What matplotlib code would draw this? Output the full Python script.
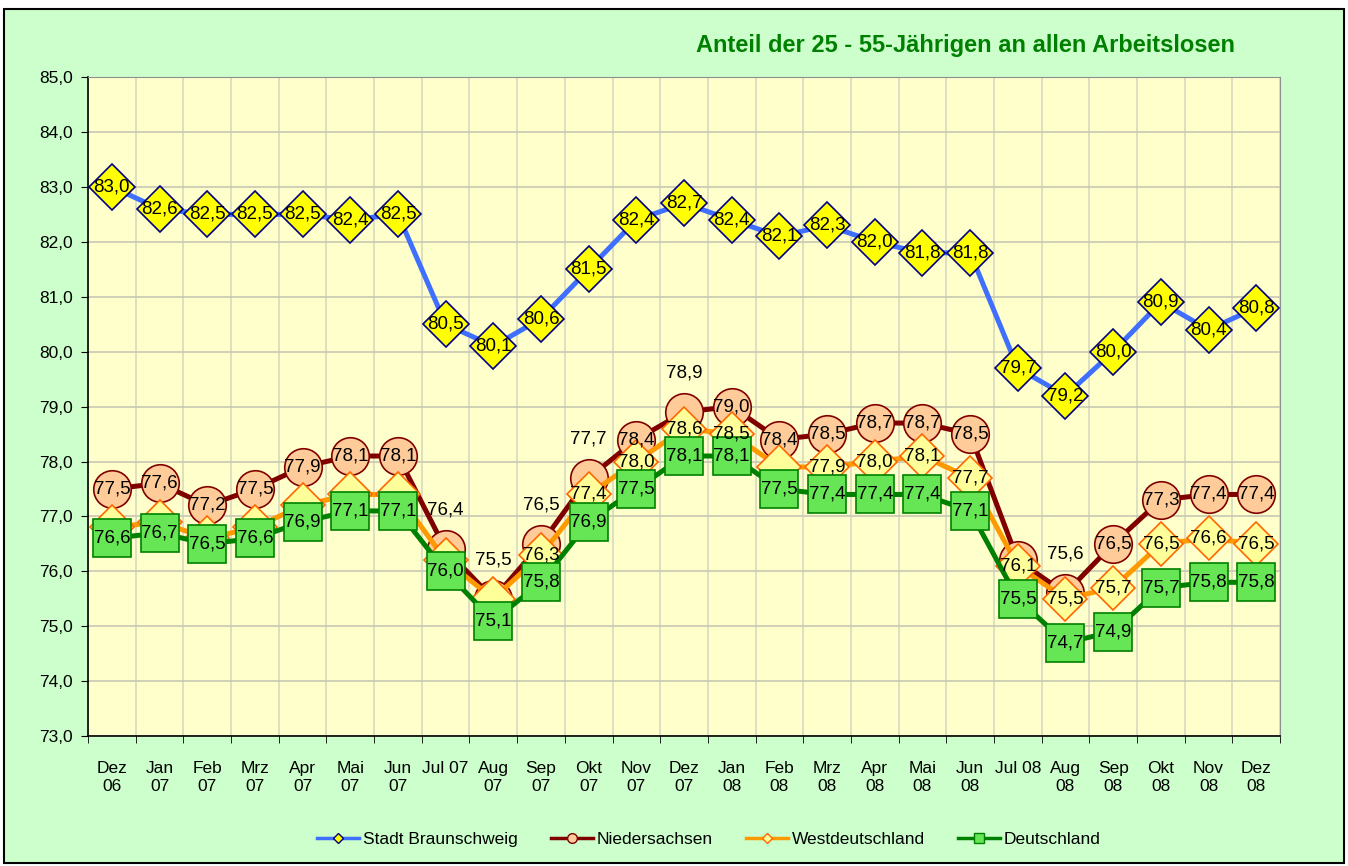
import matplotlib
matplotlib.use('Agg')
import numpy as np
import matplotlib.pyplot as plt
from matplotlib.lines import Line2D
from matplotlib.patches import Rectangle
from matplotlib.ticker import FuncFormatter, MultipleLocator

plt.rcParams['font.family'] = ['Liberation Sans', 'DejaVu Sans']

months = ['Dez\n06', 'Jan\n07', 'Feb\n07', 'Mrz\n07', 'Apr\n07', 'Mai\n07', 'Jun\n07', 'Jul 07',
          'Aug\n07', 'Sep\n07', 'Okt\n07', 'Nov\n07', 'Dez\n07', 'Jan\n08', 'Feb\n08', 'Mrz\n08',
          'Apr\n08', 'Mai\n08', 'Jun\n08', 'Jul 08', 'Aug\n08', 'Sep\n08', 'Okt\n08', 'Nov\n08', 'Dez\n08']

braunschweig = [83.0, 82.6, 82.5, 82.5, 82.5, 82.4, 82.5, 80.5, 80.1, 80.6, 81.5, 82.4, 82.7,
                82.4, 82.1, 82.3, 82.0, 81.8, 81.8, 79.7, 79.2, 80.0, 80.9, 80.4, 80.8]
niedersachsen = [77.5, 77.6, 77.2, 77.5, 77.9, 78.1, 78.1, 76.4, 75.5, 76.5, 77.7, 78.4, 78.9,
                 79.0, 78.4, 78.5, 78.7, 78.7, 78.5, 76.2, 75.6, 76.5, 77.3, 77.4, 77.4]
westdeutschland = [76.8, 76.9, 76.6, 76.8, 77.2, 77.4, 77.4, 76.2, 75.5, 76.3, 77.4, 78.0, 78.6,
                   78.5, 77.9, 77.9, 78.0, 78.1, 77.7, 76.1, 75.5, 75.7, 76.5, 76.6, 76.5]
deutschland = [76.6, 76.7, 76.5, 76.6, 76.9, 77.1, 77.1, 76.0, 75.1, 75.8, 76.9, 77.5, 78.1,
               78.1, 77.5, 77.4, 77.4, 77.4, 77.1, 75.5, 74.7, 74.9, 75.7, 75.8, 75.8]

# which labels sit above the marker / are left out
nieder_above = [7, 8, 9, 10, 12, 20]
nieder_hidden = [19]
west_hidden = [0, 1, 2, 3, 4, 5, 6, 7, 8, 14]

def fmt(v):
    return ('%.1f' % v).replace('.', ',')

fig = plt.figure(figsize=(13.48, 8.66), dpi=100)
fig.patch.set_facecolor('white')
fig.patches.append(Rectangle((0.003, 0.004), 0.994, 0.986, transform=fig.transFigure,
                             facecolor='#CCFFCC', edgecolor='black', linewidth=1.5, zorder=-10))
ax = fig.add_axes([0.0653, 0.150, 0.8843, 0.761])
ax.set_facecolor('#FFFFCC')

x = np.arange(len(months))

ax.plot(x, braunschweig, color='#3F6FFF', lw=3.6, marker='D', ms=23, mfc='#FFFF00',
        mec='#000080', mew=1.2, zorder=3)
ax.plot(x, niedersachsen, color='#800000', lw=3.6, marker='o', ms=27, mfc='#FFCC99',
        mec='#800000', mew=1.2, zorder=4)
ax.plot(x, westdeutschland, color='#FF9900', lw=3.6, marker='D', ms=22, mfc='#FFFF99',
        mec='#FF6600', mew=1.2, zorder=5)
ax.plot(x, deutschland, color='#008000', lw=3.6, marker='s', ms=27, mfc='#66E655',
        mec='#008000', mew=1.2, zorder=6)

lab = dict(ha='center', va='center', fontsize=13.5, color='black', zorder=10)
for i, v in enumerate(braunschweig):
    ax.text(i, v, fmt(v), **lab)
for i, v in enumerate(niedersachsen):
    if i in nieder_hidden:
        continue
    if i in nieder_above:
        ax.annotate(fmt(v), (i, v), xytext=(0, 28), textcoords='offset points', **lab)
    else:
        ax.text(i, v, fmt(v), **lab)
for i, v in enumerate(westdeutschland):
    if i not in west_hidden:
        ax.text(i, v, fmt(v), **lab)
for i, v in enumerate(deutschland):
    ax.text(i, v, fmt(v), **lab)

ax.set_xlim(-0.5, len(months) - 0.5)
ax.set_ylim(73, 85)
ax.yaxis.set_major_locator(MultipleLocator(1))
ax.yaxis.set_major_formatter(FuncFormatter(lambda v, p: fmt(v)))
ax.set_xticks(x)
ax.set_xticklabels(months, fontsize=12.5, linespacing=1.25)
ax.set_xticks(np.arange(len(months) + 1) - 0.5, minor=True)
ax.tick_params(axis='x', which='major', length=0, pad=18)
ax.tick_params(axis='x', which='minor', length=5, direction='out')
ax.tick_params(axis='y', length=5, direction='out', labelsize=12.5, pad=6)

ax.grid(axis='y', color='#C8C8B4', lw=1.2, zorder=0)
ax.grid(axis='x', which='minor', color='#D8D8C0', lw=1.2, zorder=0)
ax.set_axisbelow(True)
for s in ['top', 'right']:
    ax.spines[s].set_color('#909090')
for s in ['left', 'bottom']:
    ax.spines[s].set_color('black')
    ax.spines[s].set_linewidth(1.2)

fig.text(0.916, 0.947, 'Anteil der 25 - 55-J\u00e4hrigen an allen Arbeitslosen', ha='right',
         va='center', fontsize=17, fontweight='bold', color='#008000')

handles = [
    Line2D([], [], color='#3F6FFF', lw=2.5, marker='D', ms=5, mfc='#FFFF00', mec='#000080'),
    Line2D([], [], color='#800000', lw=2.5, marker='o', ms=7, mfc='#FFCC99', mec='#800000'),
    Line2D([], [], color='#FF9900', lw=2.5, marker='D', ms=5, mfc='#FFFF99', mec='#FF6600'),
    Line2D([], [], color='#008000', lw=2.5, marker='s', ms=7, mfc='#66E655', mec='#008000'),
]
fig.legend(handles, ['Stadt Braunschweig', 'Niedersachsen', 'Westdeutschland', 'Deutschland'],
           loc='center', bbox_to_anchor=(0.526, 0.031), ncol=4, frameon=False, fontsize=12.5,
           handlelength=2.4, handletextpad=0.25, columnspacing=1.9)

fig.savefig('out.png', dpi=100)
